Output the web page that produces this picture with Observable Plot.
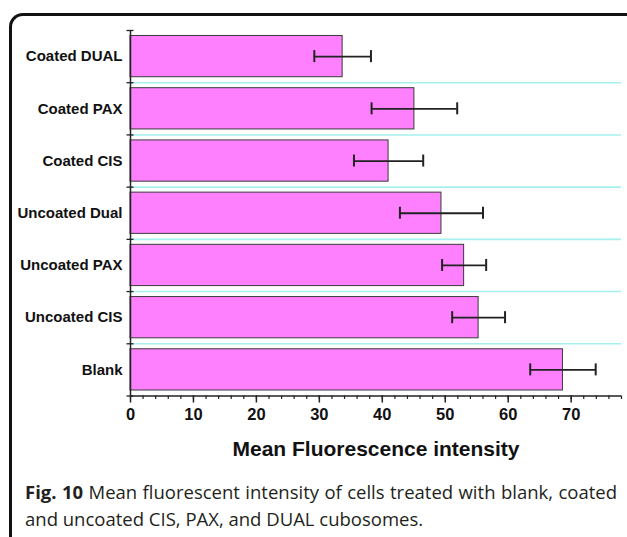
<!DOCTYPE html>
<html>
<head>
<meta charset="utf-8">
<script src="https://cdn.jsdelivr.net/npm/d3@7"></script>
<script src="https://cdn.jsdelivr.net/npm/@observablehq/plot@0.6"></script>
<style>
  html, body { margin: 0; padding: 0; background: #fff; width: 627px; height: 537px; overflow: hidden; }
  #frame { position: absolute; left: 9px; top: 13px; width: 640px; height: 600px;
           border-top: 3px solid #111; border-left: 3px solid #111; border-top-left-radius: 14px; box-sizing: border-box; }
  #chart { position: absolute; left: 0; top: 0; }
  .cap { position: absolute; left: 25px; width: 592px; font-family: "Open Sans", sans-serif;
         font-size: 18.5px; line-height: 27px; color: #231f20; white-space: nowrap; }
  #cap1 { top: 478px; text-align: justify; text-align-last: justify; }
  #cap2 { top: 505px; text-align: left; }
  .bold { font-weight: 700; }
</style>
</head>
<body>
<div id="frame"></div>
<div id="chart"></div>
<div class="cap" id="cap1"><span class="bold">Fig. 10</span> <span>Mean fluorescent intensity of cells treated with blank, coated</span></div>
<div class="cap" id="cap2"><span>and uncoated CIS, PAX, and DUAL cubosomes.</span></div>
<script>
// Data (top to bottom as shown)
const groups = ["Coated DUAL", "Coated PAX", "Coated CIS", "Uncoated Dual", "Uncoated PAX", "Uncoated CIS", "Blank"];
const means  = [33.7, 45.1, 41.0, 49.4, 53.0, 55.3, 68.7];
const errors = [4.5, 6.8, 5.5, 6.6, 3.5, 4.2, 5.2];
const majorTicks = [0, 10, 20, 30, 40, 50, 60, 70];
const xTitle = "Mean Fluorescence intensity";

const n = groups.length;
const data = groups.map((g, i) => ({
  group: g,
  pos: n - 1 - i,
  mean: means[i],
  lo: means[i] - errors[i],
  hi: means[i] + errors[i]
}));

const pad = 0.105;
const cap = 0.115;
const font = "'Liberation Sans', Arial, sans-serif";

const chart = Plot.plot({
  width: 627,
  height: 465,
  marginLeft: 130,
  marginRight: 6,
  marginTop: 30,
  marginBottom: 69.5,
  style: { fontFamily: font, background: "transparent", overflow: "visible" },
  x: { domain: [0, 78], axis: null },
  y: { domain: [0, n], axis: null },
  marks: [
    // cyan separators between bars
    Plot.ruleY(d3.range(1, n), { x1: 0, x2: 78, stroke: "#a6f0f0", strokeWidth: 1.6 }),
    // bars
    Plot.rectX(data, { x1: 0, x2: "mean", y1: d => d.pos + pad, y2: d => d.pos + 1 - pad,
                       fill: "#ff80ff", stroke: "#3a3a3a", strokeWidth: 1 }),
    // error bars
    Plot.ruleY(data, { y: d => d.pos + 0.5, x1: "lo", x2: "hi", stroke: "#222", strokeWidth: 1.8 }),
    Plot.ruleX(data, { x: "lo", y1: d => d.pos + 0.5 - cap, y2: d => d.pos + 0.5 + cap, stroke: "#222", strokeWidth: 2 }),
    Plot.ruleX(data, { x: "hi", y1: d => d.pos + 0.5 - cap, y2: d => d.pos + 0.5 + cap, stroke: "#222", strokeWidth: 2 }),
    // axis lines
    Plot.ruleX([0], { y1: 0, y2: n, stroke: "#222", strokeWidth: 1.5 }),
    Plot.ruleY([0], { x1: 0, x2: 78, stroke: "#222", strokeWidth: 1.5 }),
    // y boundary ticks (crossing the axis)
    Plot.axisY(d3.range(0, n + 1), { tickSize: 7, dx: 3.5, tickFormat: () => "", stroke: "#222", strokeWidth: 1.3 }),
    // y labels
    Plot.axisY(data.map(d => d.pos + 0.5), {
      tickSize: 0, tickPadding: 8,
      tickFormat: v => groups[n - 1 - Math.floor(v)],
      fontSize: 15, fontWeight: "bold", fill: "#111"
    }),
    // x minor ticks
    Plot.axisX(d3.range(0, 79, 2), { tickSize: 3.5, tickFormat: () => "", stroke: "#222", strokeWidth: 1.2 }),
    // x major ticks + labels
    Plot.axisX(majorTicks, {
      tickSize: 7, tickPadding: 5, stroke: "#222", strokeWidth: 1.5,
      fontSize: 16.5, fontWeight: "bold", fill: "#111",
      label: xTitle, labelAnchor: "center", labelArrow: "none", labelOffset: 60
    })
  ]
});

chart.querySelectorAll('[aria-label="x-axis label"] text, [aria-label="x-axis label"]').forEach(t => {
  t.setAttribute("font-size", "21");
  t.setAttribute("font-weight", "bold");
  t.style.fontSize = "21px";
  t.style.fontWeight = "bold";
});
document.getElementById("chart").appendChild(chart);
</script>
</body>
</html>
